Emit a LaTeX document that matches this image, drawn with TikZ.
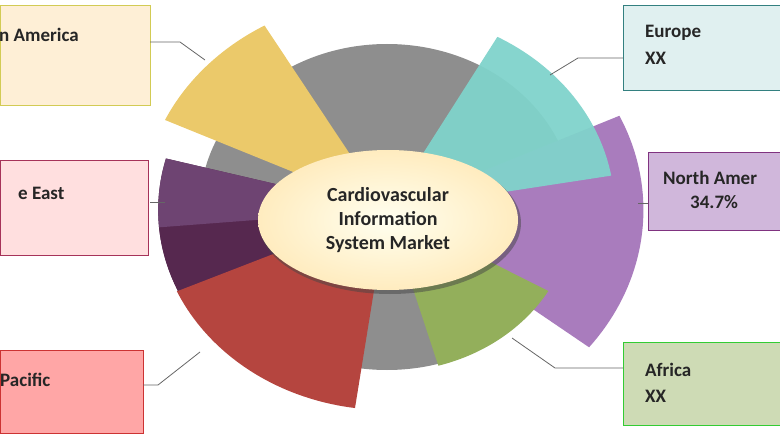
\documentclass[tikz,border=0pt]{standalone}
\usepackage{fontspec}
\setmainfont{Carlito}
\usetikzlibrary{shapes.geometric}
\begin{document}
\begin{tikzpicture}[x=1pt,y=1pt,
  lbl/.style={font=\fontsize{19}{22}\selectfont\bfseries,text=black!85,anchor=west,inner sep=0pt},
  box/.style={draw=#1!60!gray,line width=0.8pt},
  conn/.style={draw=gray!80!black,line width=0.8pt}]
\useasboundingbox (0,0) rectangle (780,440);
\definecolor{cyel}{HTML}{EBC96A}
\definecolor{cteal}{HTML}{80D3CB}
\definecolor{cpur}{HTML}{A97CBD}
\definecolor{cgrn}{HTML}{93AF5B}
\definecolor{cred}{HTML}{B5453F}
\definecolor{cdp}{HTML}{6E4472}
\definecolor{cdp2}{HTML}{56284F}
\definecolor{cgray}{HTML}{8E8E8E}
\newcommand{\sect}[4]{\fill[#1] (387,230) -- plot[domain=#2:#3,samples=40] ({387+1.15*#4*cos(\x)},{230+#4*sin(\x)}) -- cycle;}
% gray ring
\fill[cgray] (387,233) ellipse (187 and 163);
\sect{cpur}{-38}{25}{223}
\sect{cteal,opacity=0.95}{10}{61}{198}
\sect{cgrn}{-74}{-30}{162}
\sect{cdp2}{165}{206}{199}
\sect{cdp2}{185}{206}{199}
\sect{cdp}{165}{185}{199}
\sect{cred}{-156}{-98}{200}
\sect{cyel}{120}{155}{213}
% inner ellipse
\node[ellipse,draw=none,inner sep=0pt,minimum width=262pt,minimum height=142pt,
  fill=black!45!gray,opacity=0.5] at (390,217) {};
\node (core) [ellipse,inner sep=0pt,minimum width=260pt,minimum height=140pt,
  inner color=yellow!6!white, outer color=yellow!40!orange!25!white,
  align=center,font=\fontsize{20}{24}\selectfont\bfseries,text=black!85] at (388,220)
  {Cardiovascular\\Information\\System Market};
% boxes
\path[box=yellow,fill=yellow!18!orange!14!white] (0,335) rectangle (150,435);
\node[lbl] (la) at (-1,405) {n America};
\path[box=purple,fill=red!8!pink!40!white] (0,185) rectangle (148,280);
\node[lbl] (me) at (18,247) {e East};
\path[box=red,fill=red!25!pink!80!white] (0,7) rectangle (143,90);
\node[lbl] (ap) at (0,60) {Pacific};
\path[box=teal,fill=teal!12!white] (623,350) rectangle (780,435);
\node[lbl] (eu) at (645,407) {Europe};
\node[lbl] at (645,382) {XX};
\path[box=violet,fill=cpur!55!white] (648,210) rectangle (780,288);
\node[lbl] (na) at (663,262) {North Amer};
\node[lbl] at (690,238) {34.7\%};
\path[box=green,fill=cgrn!45!white] (623,15) rectangle (780,98);
\node[lbl] (af) at (645,70) {Africa};
\node[lbl] at (645,44) {XX};
% connectors
\coordinate (c1) at (150,398); \draw[conn] (c1) -- (180,398) -- (205,380);
\coordinate (c2) at (623,382); \draw[conn] (c2) -- (578,382) -- (550,365);
\coordinate (c3) at (150,238); \draw[conn] (c3) -- (165,238);
\coordinate (c4) at (648,237); \draw[conn] (c4) -- (638,237);
\coordinate (c5) at (623,72); \draw[conn] (c5) -- (555,72) -- (512,102);
\coordinate (c6) at (143,55); \draw[conn] (c6) -- (158,55) -- (200,88);
\end{tikzpicture}
\end{document}
